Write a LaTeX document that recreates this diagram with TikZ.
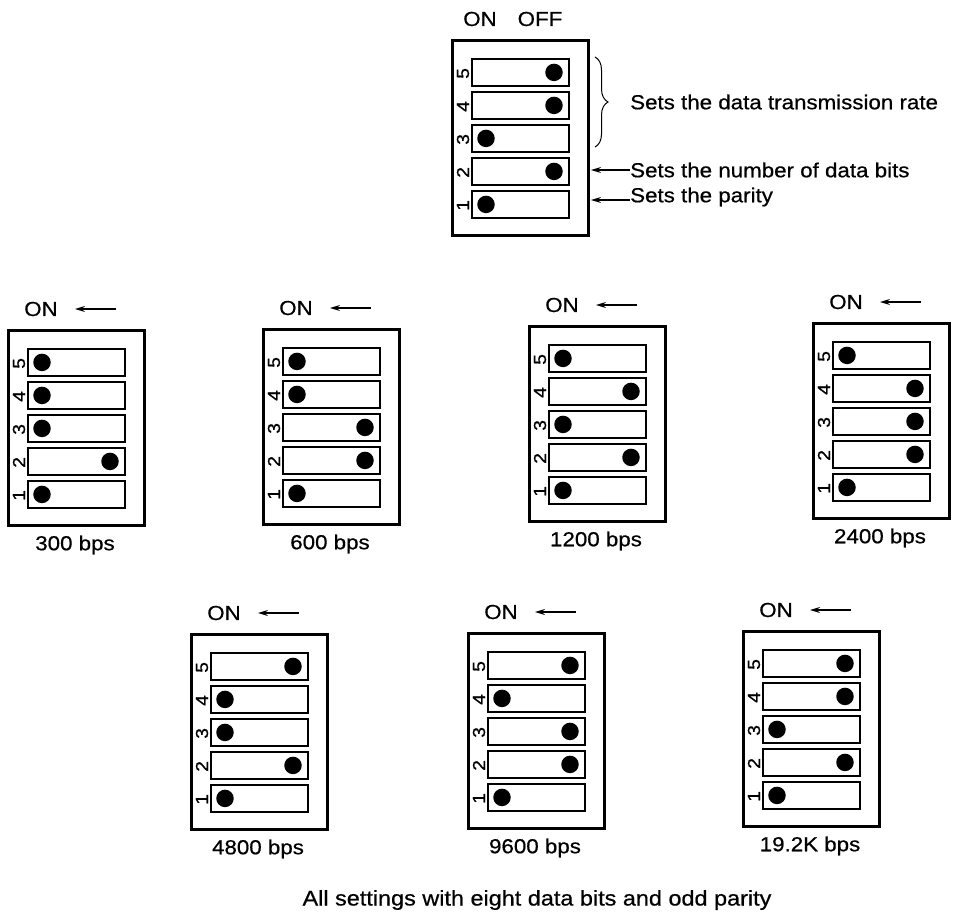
\documentclass[tikz,border=0pt]{standalone}
\usepackage{fontspec}
\setmainfont{Liberation Sans}[FakeStretch=1.1,FakeBold=0.6]
\newfontfamily\digfont{Liberation Sans}[FakeStretch=1.1,FakeBold=0.8]
\usetikzlibrary{arrows.meta,decorations.pathreplacing}
\tikzset{
  outer/.style={draw, line width=2.8pt, minimum width=136pt, minimum height=195pt, inner sep=0pt, anchor=north west},
  slot/.style={draw, line width=1.8pt, minimum width=97pt, minimum height=27pt, inner sep=0pt, anchor=north west},
  knob/.style={circle, fill=black, inner sep=0pt, minimum size=17.5pt},
  num/.style={rotate=90, font=\digfont\fontsize{17.5}{17.5}\selectfont, inner sep=0pt},
  lbl/.style={font=\fontsize{20.3}{22}\selectfont, inner sep=0pt},
  arr/.style={-{Stealth[length=10pt,width=6pt]}, line width=1.3pt},
}
% #1 name, #2 left x, #3 top y, #4 states for switches 5..1 (1 = ON)
\newcommand\dipsw[4]{%
  \node[outer] (#1) at (#2,#3) {};
  \foreach \s [count=\i] in {#4} {
    \pgfmathtruncatemacro\n{6-\i}
    \pgfmathsetmacro\dotx{\s*15+(1-\s)*83}
    \node[slot] (#1s\n) at ({#2+20},{#3+19+33*(\i-1)}) {};
    \node[knob] (#1d\n) at ([xshift=\dotx pt]#1s\n.west) {};
    \node[num] (#1n\n) at ([xshift=-8pt,yshift=-1pt]#1s\n.west) {\n};
  }
}
% #1 name, #2 left x, #3 top y, #4 bottom label
\newcommand\onlbl[4]{%
  \node[lbl] (#1on) at ({#2+34},{#3-20}) {ON};
  \coordinate (#1at) at ({#2+109},{#3-20});
  \coordinate (#1ah) at ({#2+68},{#3-20});
  \draw[arr] (#1at) -- (#1ah);
  \node[lbl] (#1lab) at ({#2+68},{#3+195+21}) {#4};
}
\begin{document}
\begin{tikzpicture}[x=1pt,y=-1pt]
\useasboundingbox (0,0) rectangle (955,918);
% top legend switch
\dipsw{T}{451}{39}{0,0,1,0,1}
\node[lbl] (Ton) at (480,19) {ON};
\node[lbl] (Toff) at (540,19) {OFF};
\coordinate (Tb1) at (595,57);
\coordinate (Tb2) at (595,147);
\draw[line width=1pt, decorate, decoration={brace, amplitude=13pt}] (Tb1) -- (Tb2);
\node[lbl, anchor=west] (Trate) at (630,102) {Sets the data transmission rate};
\node[lbl, anchor=west] (Tbits) at (630,170) {Sets the number of data bits};
\node[lbl, anchor=west] (Tpar) at (630,197) {Sets the parity};
\coordinate (Ta2) at (591,170);
\coordinate (Ta1) at (591,200);
\draw[arr] (Tbits.west) -- (Ta2);
\draw[arr] ([yshift=-3pt]Tpar.west) -- (Ta1);
% first row
\dipsw{A}{7}{329}{1,1,1,0,1}
\onlbl{A}{7}{329}{300 bps}
\dipsw{B}{262}{328}{1,1,0,0,1}
\onlbl{B}{262}{328}{600 bps}
\dipsw{C}{528}{325}{1,0,1,0,1}
\onlbl{C}{528}{325}{1200 bps}
\dipsw{D}{812}{322}{1,0,0,0,1}
\onlbl{D}{812}{322}{2400 bps}
% second row
\dipsw{E}{190}{633}{0,1,1,0,1}
\onlbl{E}{190}{633}{4800 bps}
\dipsw{F}{467}{632}{0,1,0,0,1}
\onlbl{F}{467}{632}{9600 bps}
\dipsw{G}{742}{630}{0,0,1,0,1}
\onlbl{G}{742}{630}{19.2K bps}
\node[lbl, font=\fontsize{21.3}{23}\selectfont] (foot) at (537,900) {All settings with eight data bits and odd parity};
\end{tikzpicture}
\end{document}
